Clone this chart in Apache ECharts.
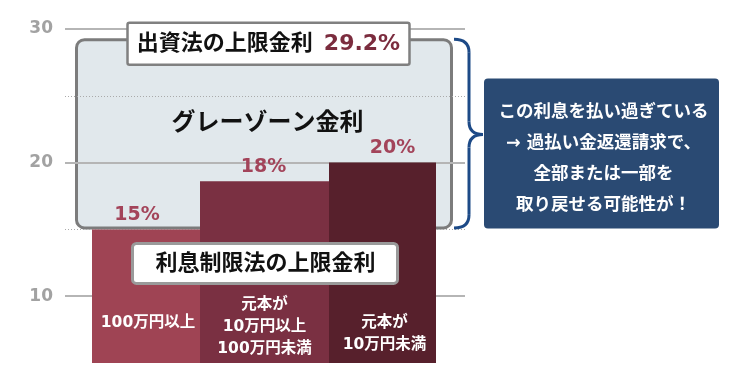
<!DOCTYPE html>
<html>
<head>
<meta charset="utf-8">
<script src="https://cdn.jsdelivr.net/npm/echarts@6/dist/echarts.min.js"></script>
<style>
html,body{margin:0;padding:0;background:#fff;}
#chart{width:750px;height:384px;}
</style>
</head>
<body>
<div id="chart"></div>
<script>
// ---- data ----
const categories = ['100万円以上', '元本が\n10万円以上\n100万円未満', '元本が\n10万円未満'];
const rateLabels = ['15%', '18%', '20%'];
const barHeights = [15, 18.6, 20];     // bar tops as drawn in the picture
const solidTicks = [10, 20, 30];
const dottedTicks = [15, 25];
const grayZone = [15, 29.2];           // 利息制限法 upper .. 出資法 upper
const upperLawRate = 29.2;
const titleLaw = '出資法の上限金利';
const grayZoneLabel = 'グレーゾーン金利';
const lowerLawLabel = '利息制限法の上限金利';
const noteLines = ['この利息を払い過ぎている', '→ 過払い金返還請求で、', '全部または一部を', '取り戻せる可能性が！'];

// ---- layout / style ----
const FONT = "'DejaVu Sans', 'Noto Sans CJK JP', sans-serif";
const barColors = ['#9f4454', '#7a3042', '#57202c'];
const barLefts = [92, 200, 329];
const barWidths = [108, 129, 107];
const labelOffsets = [-9, -1, 10];
const innerOffsetX = [2, 0, 2];
const innerTopLine = [323, 305, 323];
const yMin = 5, yMax = 30;

const chart = echarts.init(document.getElementById('chart'));

const grids = [{ left: 65, width: 400, top: 29, height: 334 }];
const xAxes = [{ type: 'value', gridIndex: 0, min: 0, max: 1, show: false }];
const yAxes = [{
  type: 'value', gridIndex: 0, min: yMin, max: yMax, interval: 5,
  axisLine: { show: false }, axisTick: { show: false }, splitLine: { show: false },
  axisLabel: {
    margin: 12, color: '#a2a2a2', fontSize: 17, fontWeight: 'bold', fontFamily: FONT,
    formatter: v => solidTicks.indexOf(v) >= 0 ? String(v) : ''
  }
}];
const series = [{
  type: 'line', xAxisIndex: 0, yAxisIndex: 0, data: [], z: 1, silent: true,
  markLine: {
    silent: true, symbol: 'none', label: { show: false }, z: 1,
    data: solidTicks.map(v => ({ yAxis: v, lineStyle: { color: '#b5b5b5', width: 2, type: 'solid' } }))
      .concat(dottedTicks.map(v => ({ yAxis: v, lineStyle: { color: '#aaaaaa', width: 1, type: [1, 2] } })))
  }
}];

categories.forEach((c, i) => {
  grids.push({ left: barLefts[i], width: barWidths[i], top: 29, height: 334 });
  xAxes.push({ type: 'category', gridIndex: i + 1, data: [c], show: false });
  yAxes.push({ type: 'value', gridIndex: i + 1, min: yMin, max: yMax, show: false });
  series.push({
    type: 'bar', xAxisIndex: i + 1, yAxisIndex: i + 1, z: 3,
    data: [barHeights[i]], barWidth: '100%',
    itemStyle: { color: barColors[i] },
    label: {
      show: true, position: 'top', distance: 5, offset: [labelOffsets[i], 0],
      formatter: () => rateLabels[i], color: '#a3445a', fontSize: 19, fontWeight: 'bold', fontFamily: FONT
    }
  });
});

chart.setOption({
  animation: false,
  grid: grids, xAxis: xAxes, yAxis: yAxes, series: series
});

// ---- annotations positioned through the library's scales ----
const py = v => chart.convertToPixel({ yAxisIndex: 0 }, v);
const px = v => chart.convertToPixel({ xAxisIndex: 0 }, v);
const gx0 = px(0), gx1 = px(1);
const zTop = py(grayZone[1]), zBot = py(grayZone[0]);
const boxL = gx0 + 10, boxR = gx1 - 12;
const midX = chart.convertToPixel({ xAxisIndex: 2 }, 0);

const graphics = [];
// gray zone box
graphics.push({
  type: 'rect', z: 0, silent: true,
  shape: { x: boxL + 1.5, y: zTop, width: boxR - boxL - 3, height: zBot - zTop - 1.5, r: 8 },
  style: { fill: '#e1e8ec', stroke: '#7c7c7c', lineWidth: 3 }
});
// grey zone label
graphics.push({
  type: 'text', z: 100, silent: true, x: midX + 3, y: py(22.9),
  style: { text: grayZoneLabel, fill: '#111', font: 'bold 24px ' + FONT, align: 'center', verticalAlign: 'middle' }
});
// title box
const tY = py(upperLawRate) + 4;
graphics.push({
  type: 'rect', z: 100, silent: true,
  shape: { x: midX - 137, y: tY - 21, width: 282, height: 42, r: 2 },
  style: { fill: '#fff', stroke: '#808080', lineWidth: 2.5 }
});
graphics.push({
  type: 'text', z: 101, silent: true, x: midX + 4, y: tY + 1,
  style: {
    text: '{a|' + titleLaw + '}{b|' + upperLawRate + '%}',
    rich: {
      a: { fill: '#111', font: 'bold 22px ' + FONT },
      b: { fill: '#7b2c3e', font: 'bold 22px ' + FONT, padding: [0, 0, 0, 11] }
    },
    align: 'center', verticalAlign: 'middle'
  }
});
// lower law label
const lY = py(grayZone[0]) + 34;
graphics.push({
  type: 'rect', z: 100, silent: true,
  shape: { x: midX - 132, y: lY - 20, width: 265, height: 40, r: 4 },
  style: { fill: '#fff', stroke: '#9a9a9a', lineWidth: 3 }
});
graphics.push({
  type: 'text', z: 101, silent: true, x: midX + 1, y: lY + 1,
  style: { text: lowerLawLabel, fill: '#111', font: 'bold 22px ' + FONT, align: 'center', verticalAlign: 'middle' }
});
// inner bar texts
categories.forEach((c, i) => {
  const cx = chart.convertToPixel({ xAxisIndex: i + 1 }, 0) + innerOffsetX[i];
  graphics.push({
    type: 'text', z: 100, silent: true, x: cx, y: innerTopLine[i] - 11,
    style: { text: c, fill: '#fff', font: 'bold 15.5px ' + FONT, align: 'center', verticalAlign: 'top', lineHeight: 22 }
  });
});
// brace
const bx0 = boxR + 1, bx1 = boxR + 16, tip = boxR + 30;
const bTop = zTop - 0.5, bBot = zBot - 1.5, bMid = (zTop + zBot) / 2;
const braceStyle = { fill: 'none', stroke: '#1d4a87', lineWidth: 3 };
const curve = (x1, y1, cx, cy, x2, y2) => ({
  type: 'bezierCurve', z: 100, silent: true,
  shape: { x1: x1, y1: y1, x2: x2, y2: y2, cpx1: cx, cpy1: cy },
  style: braceStyle
});
const seg = (x1, y1, x2, y2) => ({
  type: 'line', z: 100, silent: true,
  shape: { x1: x1, y1: y1, x2: x2, y2: y2 }, style: braceStyle
});
graphics.push(curve(bx0, bTop, bx1, bTop, bx1, bTop + 13));
graphics.push(seg(bx1, bTop + 13, bx1, bMid - 13));
graphics.push(curve(bx1, bMid - 13, bx1, bMid, tip, bMid));
graphics.push(curve(tip, bMid, bx1, bMid, bx1, bMid + 13));
graphics.push(seg(bx1, bMid + 13, bx1, bBot - 13));
graphics.push(curve(bx1, bBot - 13, bx1, bBot, bx0, bBot));
// note box
const nL = tip + 1, nW = 235, nT = py(26.3), nB = zBot - 1;
graphics.push({
  type: 'rect', z: 100, silent: true,
  shape: { x: nL, y: nT, width: nW, height: nB - nT, r: 4 },
  style: { fill: '#2a4a73' }
});
graphics.push({
  type: 'text', z: 101, silent: true, x: nL + nW / 2 + 2, y: (nT + nB) / 2 + 6,
  style: { text: noteLines.join('\n'), fill: '#fff', font: 'bold 17.5px ' + FONT, align: 'center', verticalAlign: 'middle', lineHeight: 31 }
});

chart.setOption({ graphic: graphics });
</script>
</body>
</html>
